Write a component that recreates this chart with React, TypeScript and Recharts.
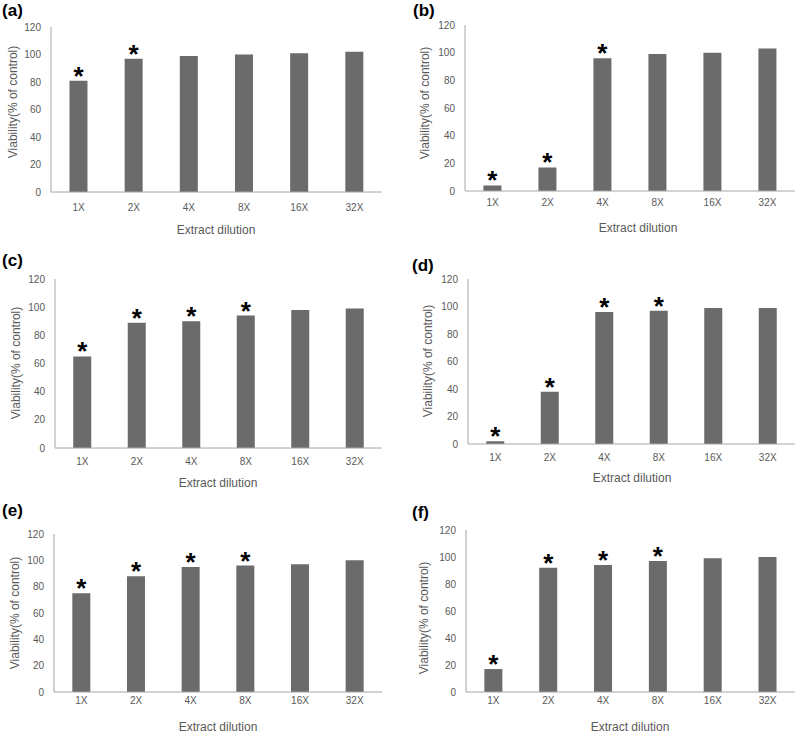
import React from 'react';
import { BarChart, Bar, XAxis, YAxis, LabelList, Label } from 'recharts';

// dilution categories shared by all six panels
const categories = ['1X', '2X', '4X', '8X', '16X', '32X'];

// viability (% of control)
const viabilityA = [81, 97, 99, 100, 101, 102];
const viabilityB = [4, 17, 96, 99, 100, 103];
const viabilityC = [65, 89, 90, 94, 98, 99];
const viabilityD = [2, 38, 96, 97, 99, 99];
const viabilityE = [75, 88, 95, 96, 97, 100];
const viabilityF = [17, 92, 94, 97, 99, 100];

// which bars carry an asterisk
const signifA = [true, true, false, false, false, false];
const signifB = [true, true, true, false, false, false];
const signifC = [true, true, true, true, false, false];
const signifD = [true, true, true, true, false, false];
const signifE = [true, true, true, true, false, false];
const signifF = [true, true, true, true, false, false];

const yTicks = [0, 20, 40, 60, 80, 100, 120];

const FONT = '"Liberation Sans", Arial, sans-serif';
const Y_W = 40;
const X_H = 40;

type Layout = {
  x: number; y: number; h: number;
  l: number; t: number; r: number; b: number;
  tickGap: number;
  titleX: number; titleY: number;
  ylabX: number; ylabY: number;
  letterX: number; letterY: number;
};

// page positions of each panel's plot area and titles
const layouts: Record<string, Layout> = {
  a: { x: 0, y: 0, h: 245, l: 51, t: 27, r: 382, b: 192, tickGap: 12, titleX: 216, titleY: 230, ylabX: 13, ylabY: 102, letterX: 2, letterY: 3 },
  b: { x: 400, y: 0, h: 245, l: 465, t: 25, r: 795, b: 191, tickGap: 8, titleX: 638, titleY: 228, ylabX: 425, ylabY: 103, letterX: 413, letterY: 3 },
  c: { x: 0, y: 240, h: 250, l: 55, t: 279, r: 382, b: 448, tickGap: 10, titleX: 218, titleY: 483, ylabX: 16, ylabY: 363, letterX: 2, letterY: 253 },
  d: { x: 400, y: 240, h: 250, l: 468, t: 279, r: 795, b: 444, tickGap: 10, titleX: 632, titleY: 478, ylabX: 428, ylabY: 361, letterX: 412, letterY: 258 },
  e: { x: 0, y: 490, h: 243, l: 54, t: 534, r: 382, b: 692, tickGap: 4.5, titleX: 218, titleY: 727, ylabX: 15, ylabY: 613, letterX: 2, letterY: 503 },
  f: { x: 400, y: 490, h: 243, l: 466, t: 530, r: 795, b: 692, tickGap: 4.5, titleX: 630, titleY: 727, ylabX: 424, ylabY: 618, letterX: 412, letterY: 505 },
};

const Panel = ({ letter, values, signif }: { letter: string; values: number[]; signif: boolean[] }) => {
  const lay = layouts[letter];
  const data = categories.map((c, i) => ({ dilution: c, viability: values[i], sig: signif[i] }));
  const margin = {
    top: lay.t - lay.y,
    left: lay.l - lay.x - Y_W,
    right: lay.x + 400 - lay.r,
    bottom: lay.y + lay.h - lay.b - X_H,
  };

  const star = (props: any) => {
    const { x, y, width, index } = props;
    if (!signif[index]) return null;
    return (
      <text x={x + width / 2} y={y + 4} textAnchor="middle" fontFamily={FONT} fontWeight="bold" fontSize={26} fill="#000">
        *
      </text>
    );
  };

  const lx = lay.ylabX - lay.x;
  const ly = lay.ylabY - lay.y;

  return (
    <div style={{ position: 'absolute', left: lay.x, top: lay.y, width: 400, height: lay.h }}>
      <BarChart width={400} height={lay.h} data={data} margin={margin} barCategoryGap="33.5%">
        <XAxis
          dataKey="dilution"
          height={X_H}
          axisLine={{ stroke: '#a6a6a6' }}
          tickLine={false}
          tickSize={0}
          tickMargin={lay.tickGap}
          tick={{ fill: '#595959', fontSize: 10, fontFamily: FONT }}
        >
          <Label
            content={() => (
              <text x={lay.titleX - lay.x} y={lay.titleY - lay.y} textAnchor="middle" dominantBaseline="central" fontFamily={FONT} fontSize={12} fill="#595959">
                Extract dilution
              </text>
            )}
          />
        </XAxis>
        <YAxis
          width={Y_W}
          domain={[0, 120]}
          ticks={yTicks}
          axisLine={{ stroke: '#a6a6a6' }}
          tickLine={false}
          tickSize={0}
          tickMargin={10}
          tick={{ fill: '#595959', fontSize: 10, fontFamily: FONT }}
        >
          <Label
            content={() => (
              <text x={lx} y={ly} transform={`rotate(-90, ${lx}, ${ly})`} textAnchor="middle" dominantBaseline="central" fontFamily={FONT} fontSize={12} fill="#595959">
                Viability(% of control)
              </text>
            )}
          />
        </YAxis>
        <Bar dataKey="viability" fill="#6b6b6b" isAnimationActive={false}>
          <LabelList dataKey="sig" content={star} />
        </Bar>
      </BarChart>
      <div
        style={{
          position: 'absolute',
          left: lay.letterX - lay.x,
          top: lay.letterY - lay.y - 1,
          fontFamily: FONT,
          fontWeight: 'bold',
          fontSize: 17,
          lineHeight: 1,
          color: '#000',
        }}
      >
        ({letter})
      </div>
    </div>
  );
};

export default function App() {
  return (
    <div style={{ position: 'absolute', left: 0, top: 0, width: 800, height: 733, background: '#fff' }}>
      <Panel letter="a" values={viabilityA} signif={signifA} />
      <Panel letter="b" values={viabilityB} signif={signifB} />
      <Panel letter="c" values={viabilityC} signif={signifC} />
      <Panel letter="d" values={viabilityD} signif={signifD} />
      <Panel letter="e" values={viabilityE} signif={signifE} />
      <Panel letter="f" values={viabilityF} signif={signifF} />
    </div>
  );
}
